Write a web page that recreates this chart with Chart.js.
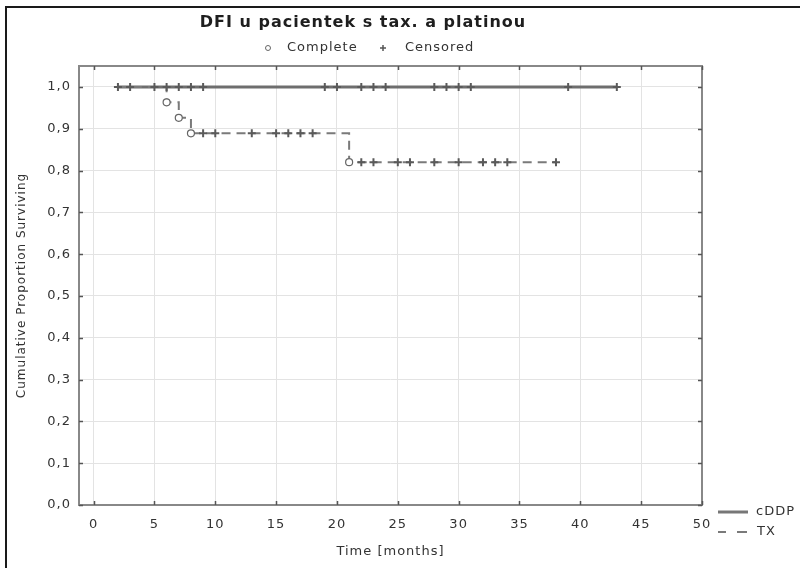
<!DOCTYPE html>
<html>
<head>
<meta charset="utf-8">
<script src="https://cdn.jsdelivr.net/npm/chart.js@4/dist/chart.umd.min.js"></script>
<style>
html,body{margin:0;padding:0;background:#fff;}
#wrap{position:relative;width:800px;height:568px;}
</style>
</head>
<body>
<div id="wrap"><canvas id="c" width="800" height="568"></canvas></div>
<script>
// ---- data ----
const chartTitle = 'DFI u pacientek s tax. a platinou';
const legendTop = ['Complete', 'Censored'];
const seriesNames = ['cDDP', 'TX'];
const xTitle = 'Time [months]';
const yTitle = 'Cumulative Proportion Surviving';
const xTickValues = [0, 5, 10, 15, 20, 25, 30, 35, 40, 45, 50];
const yTickValues = [0, 0.1, 0.2, 0.3, 0.4, 0.5, 0.6, 0.7, 0.8, 0.9, 1.0];

const cddpTimes = [2, 43];
const cddpSurvival = [1.0, 1.0];
const cddpCensoredTimes = [2, 3, 5, 6, 7, 8, 9, 19, 20, 22, 23, 24, 28, 29, 30, 31, 39, 43];
const cddpCensoredSurvival = [1, 1, 1, 1, 1, 1, 1, 1, 1, 1, 1, 1, 1, 1, 1, 1, 1, 1];

const txTimes = [2, 6, 7, 8, 21, 38];
const txSurvival = [1.0, 0.963, 0.926, 0.889, 0.82, 0.82];
const txCompleteTimes = [6, 7, 8, 21];
const txCompleteSurvival = [0.963, 0.926, 0.889, 0.82];
const txCensoredTimes = [9, 10, 13, 15, 16, 17, 18, 22, 23, 25, 26, 28, 30, 32, 33, 34, 38];
const txCensoredSurvival = [0.889, 0.889, 0.889, 0.889, 0.889, 0.889, 0.889, 0.82, 0.82, 0.82, 0.82, 0.82, 0.82, 0.82, 0.82, 0.82, 0.82];

const pts = (xs, ys) => xs.map((x, i) => ({x: x, y: ys[i]}));

const FONT = 'DejaVu Sans';
const SPACING = '1px';

const decor = {
  id: 'decor',
  beforeUpdate(chart) { chart.ctx.letterSpacing = SPACING; },
  beforeDraw(chart) { chart.ctx.letterSpacing = SPACING; },
  afterDraw(chart) {
    const ctx = chart.ctx;
    const a = chart.chartArea;
    const xs = chart.scales.x, ys = chart.scales.y;
    ctx.save();
    ctx.letterSpacing = SPACING;
    // frame
    ctx.strokeStyle = '#888';
    ctx.lineWidth = 2;
    ctx.strokeRect(a.left, a.top, a.right - a.left, a.bottom - a.top);
    // inner ticks
    ctx.strokeStyle = '#555';
    ctx.lineWidth = 1.5;
    ctx.beginPath();
    xTickValues.forEach(v => {
      const px = Math.round(xs.getPixelForValue(v)) + 0.5;
      ctx.moveTo(px, a.bottom); ctx.lineTo(px, a.bottom - 4);
      ctx.moveTo(px, a.top); ctx.lineTo(px, a.top + 4);
    });
    yTickValues.forEach(v => {
      const py = Math.round(ys.getPixelForValue(v)) + 0.5;
      ctx.moveTo(a.left, py); ctx.lineTo(a.left + 4, py);
      ctx.moveTo(a.right, py); ctx.lineTo(a.right - 4, py);
    });
    ctx.stroke();
    // outer border (top & left)
    ctx.strokeStyle = '#1a1a1a';
    ctx.lineWidth = 2;
    ctx.beginPath();
    ctx.moveTo(6, 568); ctx.lineTo(6, 7); ctx.lineTo(800, 7);
    ctx.stroke();
    // title
    ctx.fillStyle = '#1e1e1e';
    ctx.font = 'bold 16px "' + FONT + '"';
    ctx.textAlign = 'center';
    ctx.textBaseline = 'middle';
    ctx.fillText(chartTitle, 363, 23);
    // top legend
    ctx.font = '13px "' + FONT + '"';
    ctx.textAlign = 'left';
    ctx.fillStyle = '#333';
    ctx.strokeStyle = '#666';
    ctx.lineWidth = 1;
    ctx.beginPath(); ctx.arc(268, 48, 2.5, 0, Math.PI * 2); ctx.stroke();
    ctx.fillText(legendTop[0], 287, 48);
    ctx.strokeStyle = '#555';
    ctx.lineWidth = 1.5;
    ctx.beginPath();
    ctx.moveTo(380, 48); ctx.lineTo(386, 48);
    ctx.moveTo(383, 45); ctx.lineTo(383, 51);
    ctx.stroke();
    ctx.fillText(legendTop[1], 405, 48);
    // bottom-right legend
    ctx.strokeStyle = '#777';
    ctx.lineWidth = 3;
    ctx.beginPath(); ctx.moveTo(718, 512); ctx.lineTo(748, 512); ctx.stroke();
    ctx.strokeStyle = '#7a7a7a';
    ctx.lineWidth = 2;
    ctx.beginPath();
    ctx.moveTo(718, 532); ctx.lineTo(726, 532);
    ctx.moveTo(737, 532); ctx.lineTo(747, 532);
    ctx.stroke();
    ctx.fillStyle = '#333';
    ctx.fillText(seriesNames[0], 756, 512);
    ctx.fillText(seriesNames[1], 757, 532);
    ctx.restore();
  }
};

const tickFont = {family: FONT, size: 13};

new Chart(document.getElementById('c'), {
  type: 'scatter',
  data: {
    datasets: [
      {
        label: seriesNames[0] + ' censored',
        data: pts(cddpCensoredTimes, cddpCensoredSurvival),
        pointStyle: 'cross', pointRadius: 4, pointBorderWidth: 2,
        borderColor: '#5a5a5a', backgroundColor: '#5a5a5a', order: 0
      },
      {
        label: seriesNames[1] + ' censored',
        data: pts(txCensoredTimes, txCensoredSurvival),
        pointStyle: 'cross', pointRadius: 4, pointBorderWidth: 2,
        borderColor: '#5a5a5a', backgroundColor: '#5a5a5a', order: 0
      },
      {
        label: seriesNames[1] + ' complete',
        data: pts(txCompleteTimes, txCompleteSurvival),
        pointStyle: 'circle', pointRadius: 3.5, pointBorderWidth: 1.2,
        borderColor: '#666', backgroundColor: '#fff', order: 0
      },
      {
        type: 'line',
        label: seriesNames[0],
        data: pts(cddpTimes, cddpSurvival),
        borderColor: '#6e6e6e', borderWidth: 3, pointRadius: 0,
        fill: false, order: 3
      },
      {
        type: 'line',
        label: seriesNames[1],
        data: pts(txTimes, txSurvival),
        stepped: true,
        borderColor: '#7a7a7a', borderWidth: 2, borderDash: [9, 6],
        pointRadius: 0, fill: false, order: 2
      }
    ]
  },
  options: {
    responsive: false,
    animation: false,
    events: [],
    layout: {padding: {top: 66, right: 98, left: 0, bottom: 0}},
    plugins: {legend: {display: false}, tooltip: {enabled: false}, title: {display: false}},
    scales: {
      x: {
        type: 'linear', min: -1.2, max: 50,
        afterBuildTicks: s => { s.ticks = xTickValues.map(v => ({value: v})); },
        afterFit: s => { s.height = 63; },
        grid: {color: '#e3e3e3', lineWidth: 1, drawTicks: false},
        border: {display: false},
        ticks: {font: tickFont, color: '#333', padding: 12, maxRotation: 0},
        title: {display: true, text: xTitle, font: {family: FONT, size: 13}, color: '#333', padding: {top: 0, bottom: 9}}
      },
      y: {
        type: 'linear', min: 0, max: 1.05,
        afterBuildTicks: s => { s.ticks = yTickValues.map(v => ({value: v})); },
        afterFit: s => { s.width = 79; },
        grid: {color: '#e3e3e3', lineWidth: 1, drawTicks: false},
        border: {display: false},
        ticks: {font: tickFont, color: '#333', padding: 8, callback: v => v.toFixed(1).replace('.', ',')},
        title: {display: true, text: yTitle, font: {family: FONT, size: 12}, color: '#333', padding: {top: 15, bottom: 0}}
      }
    }
  },
  plugins: [decor]
});
</script>
</body>
</html>
